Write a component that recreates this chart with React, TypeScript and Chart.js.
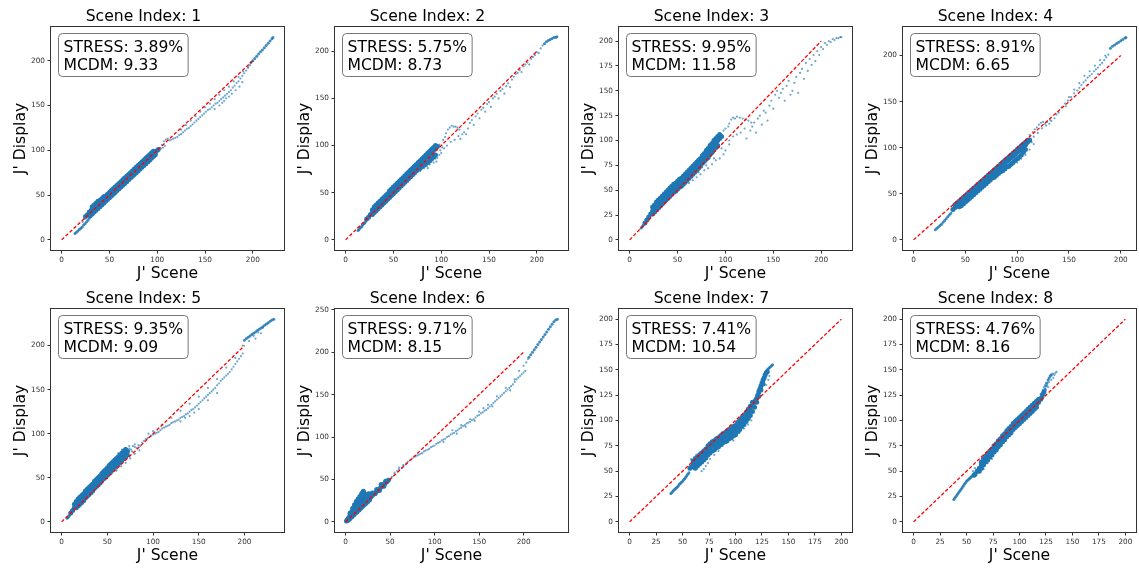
import React, { useEffect, useRef } from "react";
import { Chart, registerables } from "chart.js";
Chart.register(...registerables);

// ---------- DATA ----------
const sceneTitles = ["Scene Index: 1", "Scene Index: 2", "Scene Index: 3", "Scene Index: 4", "Scene Index: 5", "Scene Index: 6", "Scene Index: 7", "Scene Index: 8"];
const stressValues = ["3.89", "5.75", "9.95", "8.91", "9.35", "9.71", "7.41", "4.76"];
const mcdmValues = ["9.33", "8.73", "11.58", "6.65", "9.09", "8.15", "10.54", "8.16"];
const xLabel = "J' Scene";
const yLabel = "J' Display";

const xLimits = [[-11.1, 232.6], [-11.1, 232.6], [-11.1, 232.2], [-10.2, 214.7], [-11.6, 243.2], [-11.9, 249.9], [-10, 210], [-10, 210]];
const yLimits = [[-11.3, 237.6], [-10.75, 225.75], [-10.2, 214.2], [-11, 231], [-11.5, 241.5], [-12, 251], [-10, 210], [-10, 210]];

const ticks50 = [0, 50, 100, 150, 200];
const ticks25 = [0, 25, 50, 75, 100, 125, 150, 175, 200];
const ticks250 = [0, 50, 100, 150, 200, 250];
const xTickValues = [ticks50, ticks50, ticks50, ticks50, ticks50, ticks50, ticks25, ticks25];
const yTickValues = [ticks50, ticks50, ticks25, ticks50, ticks50, ticks250, ticks25, ticks25];

const identityX = [0, 200];
const identityY = [0, 200];

// Scene 1
const s1Dense = [[25,26],[27,28],[29,31],[31,33],[33,36],[35,37],[37,40],[39,42],[41,43],[43,45],[45,46],[47,48],[49,50],[51,52],[53,53],[55,55],[57,57],[59,59],[61,61],[63,63],[65,65],[67,67],[69,69],[71,71],[73,73],[75,75],[77,77],[79,79],[81,81],[83,83],[85,85],[87,87],[89,89],[91,91],[93,93],[95,95],[97,97],[99,99],[101,101],
[30,27],[32,29],[34,31],[36,33],[38,35],[40,37],[42,39],[44,41],[46,43],[48,45],[50,47],[52,49],[54,51],[56,53],[58,55],[60,57],[62,59],[64,61],[66,63],[68,65],[70,67],[72,69],[74,71],[76,73],[78,75],[80,77],[82,79],[84,81],[86,83],[88,85],[90,87],[92,89],[94,91],[96,93],[98,95],
[32,37],[34,39],[36,41],[38,43],[40,44],[42,46],[44,48],[46,49],[48,51],[50,53],[52,55],[54,57],[56,59],[58,61],[60,63],[62,65],[64,67],[66,69],[68,71],[70,73],[72,75],[74,77],[76,79],[78,81],[80,83],[82,85],[84,87],[86,89],[88,91],[90,93],[92,95],[94,97],[96,99]];
const s1Mid = [[14,7],[15.5,8.5],[17,10],[18.5,11.5],[20,13],[21.5,14.5],[23,16.5],[24.5,18],[26,20],[27.5,22],[29,24],
[198,198],[200,200],[202,202.5],[204,205],[206,207.5],[208,210],[210,212],[212,214.5],[214,217],[216,219.5],[218,222],[220,224.5],[221,226]];
const s1Sparse = [[22,20],[24,23],
[102,100],[104,102],[106,103],[108,105],[105,106],[107,110],[109,112],[111,113],[113,111],[115,112],[117,113],[119,114],[121,115],[123,117],[125,118],[127,120],[129,122],[131,124],[133,125],[135,127],[137,129],[139,131],[141,133],[143,135],[145,137],[147,139],[149,141],[151,143],[153,145],[155,146],[157,148],[159,150],[161,152],[163,153],[165,155],[167,157],[169,159],[171,161],[173,163],[175,165],[177,167],[179,170],[181,172],[183,175],[185,177],[187,180],[189,183],[191,186],[193,189],[195,192],[197,195],
[125,123],[130,128],[135,133],[140,138],[145,143],[150,148],[155,152],[160,157],[165,162],[170,167],[175,171],[180,177],[185,182],[190,188],[195,193],
[160,146],[165,150],[170,155],[175,160],[178,163],[182,167],[186,171],[189,176],[172,158],[168,153]];

// Scene 2
const s2Dense = [[22,22],[24,24],[26,27],[28,29],[30,32],[32,34],[34,36],[36,38],[38,40],[40,42],[42,44],[44,46],[46,48],[48,51],[50,53],[52,55],[54,57],[56,59],[58,61],[60,63],[62,64],[64,66],[66,68],[68,70],[70,72],[72,74],[74,76],[76,78],[78,80],[80,82],[82,85],[84,87],[86,89],[88,91],[90,93],[92,95],[94,97],[96,99],
[28,27],[30,29],[32,31],[34,33],[36,35],[38,37],[40,39],[42,41],[44,43],[46,45],[48,47],[50,49],[52,51],[54,53],[56,55],[58,57],[60,59],[62,61],[64,63],[66,65],[68,67],[70,69],[72,71],[74,73],[76,75],[78,76],[80,78],[82,79],[84,81],[86,82],[88,84],[90,86],[92,88],[94,90],
[28,32],[30,35],[32,37],[34,39],[36,41],[38,43],[40,45],[42,47],[44,49],[46,52],[48,54],[50,56],[52,58],[54,60],[56,62],[58,64],[60,66],[62,68],[64,70],[66,72],[68,74],[70,76],[72,78],[74,80],[76,82],[78,84],[80,86],[82,88],[84,90],[86,92],[88,94],[90,96],[92,98],[94,100]];
const s2Mid = [[13,10],[14,11],[15,12.5],[16,13.5],[17,14.5],[18,16],[19,17],[20,18],[21,19.5],
[208,208],[210,210],[212,211.5],[214,212.5],[216,213.5],[218,214.5],[220,215],[221,215.5]];
const s2Sparse = [[78,73],[82,76],[85,78],[88,80],[90,84],[92,82],[94,86],[96,87],[98,90],[100,92],[86,76],[95,83],[98,101],[99,95],[101,98],[103,97],
[102,106],[105,113],[107,117],[109,119],[111,121],[113,120],[115,120],[117,119],[119,117],[104,109],
[106,100],[110,104],[114,106],[118,110],[120,107],[122,112],[124,114],[126,112],[128,118],[130,124],[132,127],[134,122],[136,131],[138,134],[140,129],[142,138],[144,140],[146,136],[148,144],[150,146],[152,141],[154,150],[156,152],[158,155],[160,150],[162,158],[164,160],[166,155],[168,163],[170,166],[172,162],[174,170],[176,173],[178,176],[180,177],[182,180],[184,178],[186,184],[188,186],[190,188],[192,186],[194,192],[196,194],[198,196],[200,199],[202,198],[204,203],[206,206]];

// Scene 3
const s3Dense = [[16,17],[18,20],[20,23],[22,26],[24,29],[26,31],[28,34],[30,36],[32,38],[34,40],[36,42],[38,44],[40,46],[42,48],[44,50],[46,52],[48,53],[50,55],[52,57],[54,58],[56,60],[58,62],[60,64],[62,66],[64,68],[66,70],[68,72],[70,74],[72,76],[74,78],[76,81],[78,83],[80,86],[82,88],[84,91],[86,93],[88,96],[90,98],[92,100],[94,102],[96,104],
[24,26],[26,28],[28,30],[30,32],[32,34],[34,36],[36,38],[38,40],[40,42],[42,44],[44,46],[46,48],[48,49],[50,51],[52,53],[54,54],[56,56],[58,58],[60,60],[62,62],[64,64],[66,66],[68,68],[70,70],[72,72],[74,74],[76,77],[78,79],[80,81],[82,83],[84,86],[86,88],[88,91],[90,93],[92,95],
[24,33],[26,35],[28,38],[30,40],[32,42],[34,44],[36,46],[38,48],[40,50],[42,52],[44,54],[46,56],[48,57],[50,59],[52,61],[54,62],[56,64],[58,66],[60,68],[62,70],[64,72],[66,74],[68,76],[70,78],[72,80],[74,82],[76,85],[78,87],[80,90],[82,92],[84,95],[86,97],[88,100],[90,102],[92,104],[94,106]];
const s3Mid = [[12,12],[13,13],[14,14.5],[15,15.5]];
const s3Sparse = [[62,57],[66,60],[70,63],[74,66],[78,70],[82,72],[86,76],[90,80],[94,82],[98,86],[100,90],[72,68],[80,75],[88,82],[96,92],[104,96],
[98,110],[100,112],[103,114],[106,121],[108,123],[110,122],[112,124],[115,123],[118,122],[121,121],[124,120],[127,118],[104,117],
[104,100],[108,104],[112,106],[116,108],[120,112],[122,102],[126,110],[128,114],[130,118],[132,108],[134,122],[136,125],[138,116],[140,130],[142,128],[144,120],[146,135],[148,140],[150,132],[152,146],[154,150],[156,143],[158,148],[160,152],[162,140],[164,155],[166,160],[168,146],[170,150],[172,158],[174,164],[176,148],[178,168],[180,172],[182,162],[184,178],[186,170],[188,182],[190,176],[192,186],[194,180],[196,190],[198,186],[200,194],[202,192],[204,198],[206,196],[208,200],[210,199],[212,202],[214,201],[216,203],[218,203],[220,204],[221,204]];

// Scene 4
const s4Dense = [[38,33],[40,35],[42,37],[44,39],[46,41],[48,43],[50,45],[52,47],[54,49],[56,51],[58,53],[60,55],[62,57],[64,59],[66,61],[68,63],[70,65],[72,67],[74,69],[76,71],[78,73],[80,75],[82,77],[84,79],[86,81],[88,83],[90,85],[92,87],[94,89],[96,91],[98,93],[100,95],[102,97],[104,99],[106,101],[108,103],[110,106],[112,108],
[40,38],[42,40],[44,42],[46,44],[48,46],[50,48],[52,50],[54,52],[56,54],[58,56],[60,58],[62,60],[64,62],[66,64],[68,66],[70,68],[72,70],[74,72],[76,74],[78,76],[80,78],[82,80],[84,82],[86,84],[88,86],[90,88],[92,90],[94,92],[96,94],[98,96],[100,98],[102,100],[104,102],[106,104],[108,106],[110,108],
[44,36],[46,37],[48,39],[50,41],[52,43],[54,45],[56,47],[58,49],[60,51],[62,53],[64,55],[66,57],[68,59],[70,61],[72,63],[74,65],[76,67],[78,68],[80,70],[82,72],[84,74],[86,75],[88,77],[90,79],[92,80],[94,82],[96,84],[98,86],[100,88],[102,90],[104,92],[106,95],[108,98]];
const s4Mid = [[21,11],[22.5,12.5],[24,14],[25.5,15.5],[27,17],[28.5,19],[30,21],[31.5,23],[33,25],[34.5,27],[36,29],
[190,208],[192,210],[194,211.5],[196,213],[198,214.5],[200,216],[202,217.5],[204,219],[205,219.5]];
const s4Sparse = [[88,76],[92,78],[96,82],[100,84],[104,88],[108,92],[112,98],[116,104],[94,80],[102,87],[110,104],[113,110],[114,106],
[112,114],[115,117],[117,120],[119,122],[121,125],[123,127],[125,128],[127,126],[129,128],[131,126],[133,129],[116,112],[120,116],[124,121],[128,124],[132,130],[136,132],[138,136],[140,138],
[143,144],[146,148],[149,151],[152,155],[155,159],[158,162],[160,165],[162,168],[164,171],[166,173],[168,176],[170,178],[172,180],[174,183],[176,185],[178,187],[180,190],[182,192],[184,195],[186,198],[188,201],[165,178],[170,183],[175,189],[180,195],[185,200],[160,170],[155,163],[168,168],[178,180],[150,155],[147,145]];

// Scene 5
const s5Dense = [[10,10],[12,13],[14,16],[16,19],[18,22],[20,24],[22,26],[24,28],[26,31],[28,33],[30,35],[32,37],[34,39],[36,42],[38,44],[40,46],[42,48],[44,51],[46,53],[48,55],[50,57],[52,60],[54,62],[56,64],[58,66],[60,68],[62,70],[64,72],[66,74],[68,76],[70,78],[72,80],
[14,20],[16,23],[18,26],[20,28],[22,30],[24,32],[26,35],[28,37],[30,39],[32,41],[34,43],[36,46],[38,48],[40,50],[42,52],[44,55],[46,57],[48,59],[50,61],[52,64],[54,66],[56,68],[58,70],[60,72],[62,74],[64,76],[66,78],[68,80],[70,82],
[16,16],[18,18],[20,20],[22,22],[24,24],[26,27],[28,29],[30,31],[32,33],[34,35],[36,38],[38,40],[40,42],[42,44],[44,47],[46,49],[48,51],[50,53],[52,56],[54,58],[56,60],[58,62],[60,64],[62,66],[64,68],[66,70],[68,72],[70,74],[72,76]];
const s5Mid = [[6,4],[7,5],[8,6.5],[9,8],
[200,206],[202,208],[204,209.5],[206,211],[208,212.5],[210,214],[212,215.5],[214,217],[216,218.5],[218,220],[220,221.5],[222,223],[224,224.5],[226,226],[228,227.5],[230,229],[232,230]];
const s5Sparse = [[58,72],[62,78],[66,82],[70,84],[74,86],[78,86],[80,85],[82,84],[84,87],[86,86],[76,82],[80,88],[74,83],[77,80],
[50,50],[55,55],[60,60],[65,63],[70,67],[75,72],[80,77],[85,81],[60,58],
[88,90],[90,92],[92,94],[94,95],[96,96],[98,98],[100,99],[102,100],[104,101],[106,102],[108,104],[110,106],[112,107],[114,108],[116,109],[118,110],[120,112],[122,113],[124,114],[126,115],[128,116],[130,118],[132,119],[134,120],[136,122],[138,123],[140,125],[142,127],[144,128],[146,130],[148,132],[150,134],[152,136],[154,138],[156,140],[158,142],[160,144],[162,146],[164,148],[166,150],[168,152],[170,155],[172,157],[174,160],[176,162],[178,164],[180,166],[182,168],[184,170],[186,173],[188,176],[190,179],[192,182],[194,185],[196,188],[198,191],
[110,110],[120,118],[130,126],[140,134],[150,142],[160,152],[170,162],[180,175],[190,186],[100,103],[95,100],
[130,114],[140,120],[150,128],[160,138],[170,146],[145,124],[135,118],
[198,200],[205,205],[210,211],[215,215],[220,220],[225,225],[212,208],[218,214]];

// Scene 6
const s6Dense = [[1,1],[2,2.5],[3,4],[4,5.5],[5,7],[6,8.5],[7,10],[8,11.5],[9,13],[10,14],[11,15.5],[12,17],[13,18],[14,19],[15,20],[16,21],[17,22],[18,23],[19,24],[20,25],[22,26],[24,27],[26,28],[28,29],[30,31],[32,33],[34,35],[36,37],[38,39],[40,41],[42,43],[44,45],[46,47],[48,49],
[3,2],[5,4],[7,6],[9,8],[11,10],[13,12],[15,14],[17,16],[19,18],[21,20],[23,22],[25,24],[27,26],
[6,11],[8,14],[10,17],[12,20],[14,23],[16,25],[18,27],[20,30],[22,31],[19,34],[20,36],[21,33],[25,30],[30,34],[35,38],[40,44],[45,48],[28,31],[33,33],[38,37],[43,42],
[5,10],[8,16],[10,20],[12,24],[14,27],[16,30],[18,33],[15,26],[10,12],[13,16],[17,20],[22,28],[24,32],[26,33]];
const s6Mid = [[206,194],[208,197],[210,200],[212,203],[214,206],[216,209],[218,212],[220,215],[222,218],[224,221],[226,224],[228,227],[230,230],[232,233],[234,236],[236,238],[238,239]];
const s6Sparse = [[50,51],[52,53],[55,56],[58,60],[60,62],[63,64],[65,66],[68,69],[70,71],[73,73],[75,75],[78,77],[80,78],[55,58],[60,64],[65,67],
[82,79],[84,80],[86,81],[88,83],[90,84],[92,85],[94,86],[96,88],[98,89],[100,90],[102,92],[104,93],[106,94],[108,96],[110,97],[112,98],[114,100],[116,101],[118,103],[120,104],[122,105],[124,107],[126,108],[128,110],[130,111],[132,113],[134,114],[136,116],[138,117],[140,118],[142,120],[144,121],[146,123],[148,125],[150,126],[152,128],[154,129],[156,131],[158,132],[160,134],[162,136],[164,138],[166,140],[168,142],[170,144],[172,146],[174,148],[176,150],[178,152],[180,154],[182,156],[184,158],[186,160],[188,162],[190,165],[192,168],[194,170],[196,172],[198,174],[200,176],[202,178],
[120,108],[130,114],[140,121],[150,130],[160,138],[170,148],[180,158],[190,168],[110,94],[125,104],[145,119],[165,136],[185,155],[155,134],[135,112],[195,178],[200,184],[203,188],[205,192]];

// Scene 7
const s7Dense = [[57,53],[58,54],[60,56],[62,58],[64,60],[66,62],[68,64],[70,66],[72,68],[74,71],[76,73],[78,75],[80,76],[82,78],[84,79],[86,81],[88,83],[90,84],[92,85],[94,87],[96,88],[98,90],[100,91],[102,94],[104,96],[106,99],[108,101],[110,104],[112,107],[114,110],[116,114],[118,118],[119,120],[120,122],[121,125],[122,128],[123,131],[124,134],[125,137],[126,140],[127,142],[128,145],[129,147],[130,148],
[60,60],[62,62],[64,64],[66,66],[68,68],[70,70],[72,72],[74,75],[76,77],[78,79],[80,80],[82,82],[84,83],[86,85],[88,87],[90,88],[92,89],[94,91],[96,92],[98,94],[100,95],[102,98],[104,100],[106,103],[108,105],[110,108],[112,111],[114,114],[116,118],
[62,53],[64,55],[66,57],[68,59],[70,61],[72,63],[74,66],[76,68],[78,70],[80,71],[82,73],[84,74],[86,76],[88,78],[90,79],[92,80],[94,82],[96,83],[98,85],[100,86],[102,89],[104,91],[106,94],[108,96],[110,99],[112,102],[114,105],[116,109],[118,113],[120,118],[122,124],[124,130],[126,136]];
const s7Mid = [[39,28],[40,29],[41,30.5],[42,31.5],[43,32.5],[44,33.5],[45,34.5],[46,35.5],[47,37],[48,38],[49,39],[50,40],[51,41.5],[52,42.5],[53,44],[54,45.5],[55,47],[56,48.5],
[130,150],[131,151],[132,152],[133,153],[134,154],[135,155]];
const s7Sparse = [[58,62],[61,64],[63,66],[66,68],[68,50],[70,52],[72,55],[74,58],[64,55],[69,58],[76,62],[80,66],[84,70],[88,75],[92,78],[98,80],[104,88],[108,92],[112,96],[115,100],[96,95],[108,106],[114,115],[117,119],[121,130],[124,137],[126,143],[128,147],[129,135],[131,140],[132,144]];

// Scene 8
const s8Dense = [[57,46],[58,47],[60,50],[62,53],[64,56],[66,59],[68,62],[70,64],[72,67],[74,69],[76,72],[78,74],[80,77],[82,79],[84,82],[86,84],[88,87],[90,89],[92,91],[94,94],[96,96],[98,98],[100,100],[102,102],[104,104],[106,106],[108,108],[110,110],[112,112],[114,114],[116,116],[118,118],[120,121],[121,123],[122,126],[123,128],
[64,59],[66,62],[68,65],[70,67],[72,70],[74,72],[76,75],[78,77],[80,80],[82,82],[84,85],[86,87],[88,90],[90,92],[92,94],[94,97],[96,99],[98,101],[100,103],[102,105],[104,107],[106,109],[108,111],[110,113],[112,115],[114,117],[116,119],[118,121],
[62,50],[64,53],[66,56],[68,59],[70,61],[72,64],[74,66],[76,69],[78,71],[80,74],[82,76],[84,79],[86,81],[88,84],[90,86],[92,88],[94,91],[96,93],[98,95],[100,97],[102,99],[104,101],[106,103],[108,105],[110,107],[112,109],[114,111],[116,113]];
const s8Mid = [[38,22],[39,23.5],[40,25],[41,26.5],[42,28],[43,29.5],[44,31],[45,32.5],[46,34],[47,35.5],[48,37],[49,38.5],[50,40],[51,41],[52,42],[53,43],[54,44],[55,45],
[124,131],[125,134],[126,137],[127,140],[128,142],[129,144],[130,145]];
const s8Sparse = [[56,50],[58,53],[62,50],[66,52],[70,58],[74,62],[65,62],[70,68],[75,74],[80,80],[85,86],[90,91],[80,72],[85,78],[90,85],[100,97],[110,107],
[120,126],[122,130],[123,133],[124,135],[125,137],[131,146],[132,146],[133,145],[134,147],[135,148],[126,135],[128,138],[130,140],[132,142],[125,130],[127,133]];

const denseSets = [s1Dense, s2Dense, s3Dense, s4Dense, s5Dense, s6Dense, s7Dense, s8Dense];
const midSets = [s1Mid, s2Mid, s3Mid, s4Mid, s5Mid, s6Mid, s7Mid, s8Mid];
const sparseSets = [s1Sparse, s2Sparse, s3Sparse, s4Sparse, s5Sparse, s6Sparse, s7Sparse, s8Sparse];

// ---------- LAYOUT ----------
const FONT = "'DejaVu Sans', 'Liberation Sans', sans-serif";
const PLOT_W = 236;
const PLOT_H = 223;
const GUT_L = 51;
const GUT_T = 27;
const GUT_B = 35;
const GUT_R = 1;
const colLefts = [51, 335, 619, 903];
const rowTops = [27, 309];
const CAN_W = GUT_L + PLOT_W + GUT_R;
const CAN_H = GUT_T + PLOT_H + GUT_B;
const BLUE = "rgb(31,119,180)";

const toPts = (arr: number[][]) => arr.map((p) => ({ x: p[0], y: p[1] }));

function Panel({ idx }: { idx: number }) {
  const ref = useRef<HTMLCanvasElement | null>(null);
  useEffect(() => {
    if (!ref.current) return;
    const decor = {
      id: "decor" + idx,
      afterDraw(chart: any) {
        const { ctx, chartArea } = chart;
        const { left, top, right, bottom } = chartArea;
        ctx.save();
        ctx.strokeStyle = "#333";
        ctx.lineWidth = 1;
        ctx.strokeRect(Math.round(left) - 0.5, Math.round(top) - 0.5, Math.round(right - left) + 1, Math.round(bottom - top) + 1);
        ctx.font = "15.6px " + FONT;
        const l1 = "STRESS: " + stressValues[idx] + "%";
        const l2 = "MCDM: " + mcdmValues[idx];
        const tw = Math.max(ctx.measureText(l1).width, ctx.measureText(l2).width);
        const bx = left + 7.5;
        const by = top + 6.5;
        const bw = tw + 10;
        const bh = 43;
        const r = 4;
        ctx.beginPath();
        ctx.moveTo(bx + r, by);
        ctx.lineTo(bx + bw - r, by);
        ctx.arcTo(bx + bw, by, bx + bw, by + r, r);
        ctx.lineTo(bx + bw, by + bh - r);
        ctx.arcTo(bx + bw, by + bh, bx + bw - r, by + bh, r);
        ctx.lineTo(bx + r, by + bh);
        ctx.arcTo(bx, by + bh, bx, by + bh - r, r);
        ctx.lineTo(bx, by + r);
        ctx.arcTo(bx, by, bx + r, by, r);
        ctx.closePath();
        ctx.fillStyle = "rgba(255,255,255,0.9)";
        ctx.fill();
        ctx.strokeStyle = "#777";
        ctx.stroke();
        ctx.fillStyle = "#000";
        ctx.textBaseline = "alphabetic";
        ctx.textAlign = "left";
        ctx.fillText(l1, bx + 5, top + 24.5);
        ctx.fillText(l2, bx + 5, top + 42.5);
        ctx.restore();
      },
    };
    const tickFont = { family: FONT, size: 7.3 };
    const chart = new Chart(ref.current, {
      type: "scatter",
      data: {
        datasets: [
          {
            type: "line",
            data: identityX.map((x, i) => ({ x, y: identityY[i] })),
            borderColor: "#ff0000",
            borderWidth: 1.3,
            borderDash: [3.5, 2],
            pointRadius: 0,
            fill: false,
          } as any,
          {
            data: toPts(denseSets[idx]),
            pointRadius: 2.5,
            pointBorderWidth: 0,
            pointBackgroundColor: BLUE,
            backgroundColor: BLUE,
          },
          {
            data: toPts(midSets[idx]),
            pointRadius: 1.5,
            pointBorderWidth: 0,
            pointBackgroundColor: "rgba(31,119,180,0.85)",
            backgroundColor: "rgba(31,119,180,0.85)",
          },
          {
            data: toPts(sparseSets[idx]),
            pointRadius: 1.1,
            pointBorderWidth: 0,
            pointBackgroundColor: "rgba(31,119,180,0.65)",
            backgroundColor: "rgba(31,119,180,0.65)",
          },
        ],
      },
      options: {
        animation: false,
        responsive: false,
        devicePixelRatio: 1,
        events: [],
        layout: { padding: { left: 0, right: GUT_R, top: 0, bottom: 0 } },
        plugins: {
          legend: { display: false },
          tooltip: { enabled: false },
          title: {
            display: true,
            text: sceneTitles[idx],
            color: "#000",
            font: { family: FONT, size: 15.6, weight: "normal" as any },
            padding: { top: 8, bottom: GUT_T - 8 - 15.6 * 1.2 },
          },
        },
        scales: {
          x: {
            type: "linear",
            min: xLimits[idx][0],
            max: xLimits[idx][1],
            afterBuildTicks: (s: any) => {
              s.ticks = xTickValues[idx].map((v) => ({ value: v }));
            },
            afterFit: (s: any) => {
              s.height = GUT_B;
            },
            ticks: { font: tickFont, color: "#333", padding: 2, maxRotation: 0, autoSkip: false },
            grid: { drawOnChartArea: false, drawTicks: true, tickLength: 3.5, color: "#333" },
            border: { display: false },
            title: {
              display: true,
              text: xLabel,
              color: "#000",
              font: { family: FONT, size: 15.6 },
              padding: { top: 0, bottom: 2 },
            },
          },
          y: {
            type: "linear",
            min: yLimits[idx][0],
            max: yLimits[idx][1],
            afterBuildTicks: (s: any) => {
              s.ticks = yTickValues[idx].map((v) => ({ value: v }));
            },
            afterFit: (s: any) => {
              s.width = GUT_L;
            },
            ticks: { font: tickFont, color: "#333", padding: 2.5, autoSkip: false },
            grid: { drawOnChartArea: false, drawTicks: true, tickLength: 3.5, color: "#333" },
            border: { display: false },
            title: {
              display: true,
              text: yLabel,
              color: "#000",
              font: { family: FONT, size: 15.6 },
              padding: { top: 12, bottom: 0 },
            },
          },
        },
      },
      plugins: [decor],
    } as any);
    return () => chart.destroy();
  }, [idx]);
  const col = idx % 4;
  const row = Math.floor(idx / 4);
  return (
    <canvas
      ref={ref}
      width={CAN_W}
      height={CAN_H}
      style={{ position: "absolute", left: colLefts[col] - GUT_L, top: rowTops[row] - GUT_T, width: CAN_W, height: CAN_H }}
    />
  );
}

export default function App() {
  return (
    <div style={{ position: "absolute", left: 0, top: 0, width: 1139, height: 568, overflow: "hidden", background: "#fff" }}>
      {sceneTitles.map((_, i) => (
        <Panel key={i} idx={i} />
      ))}
    </div>
  );
}
